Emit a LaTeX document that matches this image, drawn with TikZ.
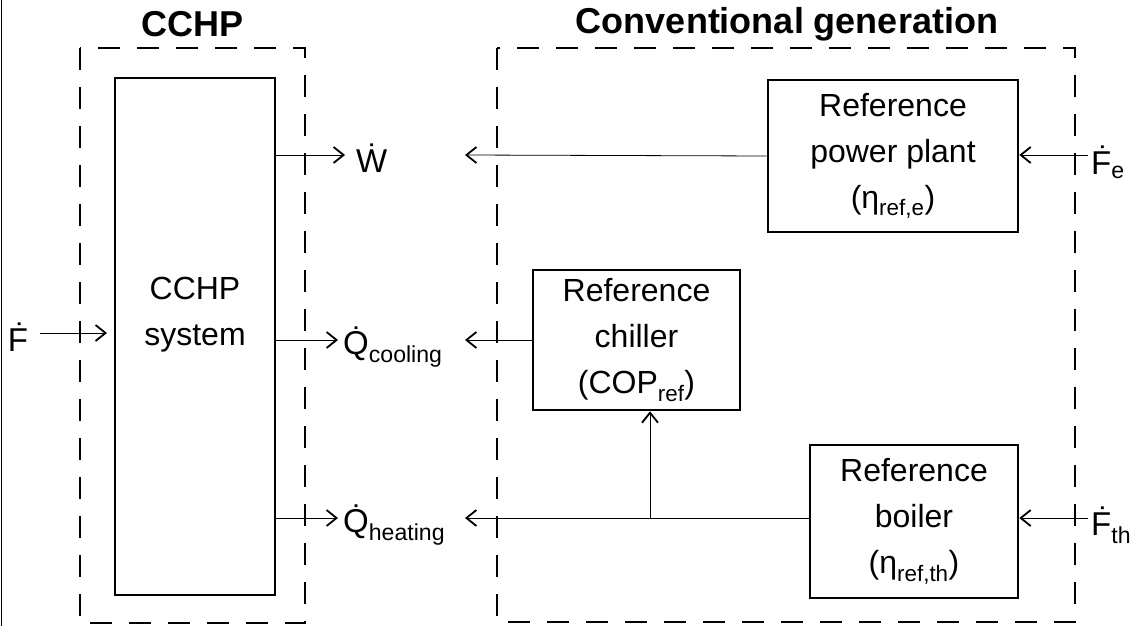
\documentclass[tikz,border=0pt]{standalone}
\usepackage{fontspec}
\setmainfont{Liberation Sans}
\usetikzlibrary{arrows.meta}
\begin{document}
\begin{tikzpicture}[x=1pt,y=-1pt,
  box/.style={draw,line width=2.6pt},
  grp/.style={draw,line width=1.6pt,dash pattern=on 22pt off 17pt},
  lbl/.style={font=\fontsize{32}{46}\selectfont,align=center},
  sig/.style={font=\fontsize{33}{40}\selectfont,inner sep=1pt},
  ttl/.style={font=\bfseries\fontsize{36}{40}\selectfont},
  arr/.style={-{Straight Barb[length=10pt,width=16pt,line width=1.8pt]},line width=0.8pt}]
\useasboundingbox (0,0) rectangle (1144,626);
\draw[line width=1pt] (1,0) -- (1,626);
% groups
\draw[grp] (80,48) rectangle (305,623);
\draw[grp] (497,48) rectangle (1075,622);
\node[ttl] (t1) at (193,24) {CCHP};
\node[ttl] (t2) at (787,24) {Conventional generation};
% boxes
\draw[box] (115,78) rectangle (275,595);
\node[lbl] (sys) at (195,315) {CCHP\\system};
\coordinate (sysW) at (275,155);
\coordinate (sysC) at (275,340);
\coordinate (sysH) at (275,518);
\coordinate (sysF) at (107,333);
\node[box,lbl,minimum width=250pt,minimum height=152pt,inner sep=0pt] (pp) at (893,156) {Reference\\power plant\\(η\textsubscript{ref,e})};
\node[box,lbl,minimum width=207pt,minimum height=140pt,inner sep=0pt] (ch) at (636.5,340) {Reference\\chiller\\(COP\textsubscript{ref})};
\node[box,lbl,minimum width=208pt,minimum height=153pt,inner sep=0pt] (bo) at (914,521.5) {Reference\\boiler\\(η\textsubscript{ref,th})};
% signals
\node[sig,anchor=west] (W) at (355,158) {\.{W}};
\node[sig,anchor=west] (Qc) at (342,347) {\.{Q}\textsubscript{cooling}};
\node[sig,anchor=west] (Qh) at (342,525) {\.{Q}\textsubscript{heating}};
\node[sig] (F) at (18,337) {\.{F}};
\node[sig,anchor=west] (Fe) at (1090,162) {\.{F}\textsubscript{e}};
\node[sig,anchor=west] (Fth) at (1090,525) {\.{F}\textsubscript{th}};
\coordinate (inW) at (465,155);
\coordinate (inC) at (465,340);
\coordinate (inH) at (465,518);
\coordinate (br) at (650,518);
% arrows
\draw[arr] (sysW) -- (345,155);
\draw[arr] (sysC) -- (338,340);
\draw[arr] (sysH) -- (338,518);
\draw[arr] (40,333) -- (sysF);
\draw[arr] (pp.west) -- (inW);
\draw[arr] (ch.west) -- (inC);
\draw[arr] (bo.west |- br) -- (inH);
\draw[arr] (br) -- (br |- ch.south);
\draw[arr] (1088,155) -- (pp.east |- 0,155);
\draw[arr] (1088,518) -- (bo.east |- 0,518);
\end{tikzpicture}
\end{document}
